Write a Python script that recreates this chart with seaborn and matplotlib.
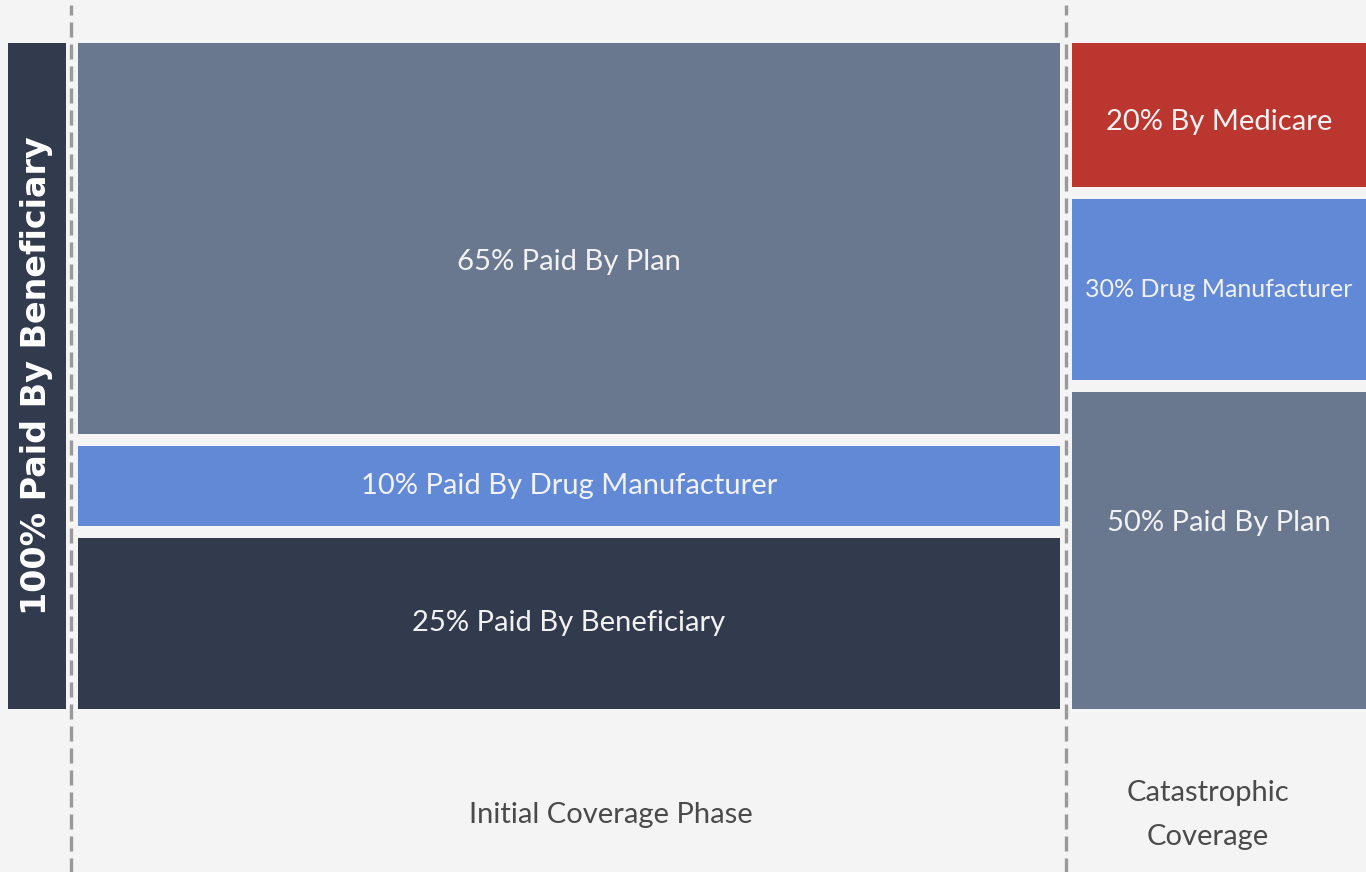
import matplotlib
matplotlib.use("Agg")
import matplotlib.pyplot as plt
import seaborn as sns
import numpy as np

# bar heights as drawn in the picture (share of the column, bottom to top)
deductible_heights = [100]
deductible_labels = ["100% Paid By Beneficiary"]

initial_heights = [27, 13.5, 59.5]
initial_labels = ["25% Paid By Beneficiary", "10% Paid By Drug Manufacturer", "65% Paid By Plan"]

catastrophic_heights = [48.5, 28.5, 23]
catastrophic_labels = ["50% Paid By Plan", "30% Drug Manufacturer", "20% By Medicare"]

phase_names = ["Initial Coverage Phase", "Catastrophic\nCoverage"]

# colours
bg = "#f4f4f4"
navy = "#323a4d"
slate = "#69778f"
blue = "#6189d6"
red = "#bc3630"

sns.set_theme(style="white")
plt.rcParams["font.family"] = ["Lato", "DejaVu Sans"]

fig = plt.figure(figsize=(13.66, 8.72), dpi=100, facecolor=bg)
ax = fig.add_axes([0, 157 / 872, 1, 678 / 872])
ax.set_facecolor(bg)
ax.set_xlim(0, 1366)
ax.set_ylim(0, 100)
ax.axis("off")

# column edges on the x axis (layout)
cols = [(2, 72), (72, 1066), (1066, 1372)]
gap_lw = 12 * 0.72  # 12 px separator


def stack(col, heights, colors, labels, sizes, shifts):
    left, right = col
    bottoms = np.concatenate([[0], np.cumsum(heights)[:-1]])
    ax.bar(left, heights, width=right - left, bottom=bottoms, align="edge",
           color=colors, edgecolor=bg, linewidth=gap_lw)
    for b, h, lab, fs, dy in zip(bottoms, heights, labels, sizes, shifts):
        ax.text((left + right) / 2, b + h / 2 + dy, lab, ha="center", va="center",
                color="#f2f2f2", fontsize=fs)


# left deductible column
ax.bar(cols[0][0], deductible_heights, width=cols[0][1] - cols[0][0], bottom=0,
       align="edge", color=navy, edgecolor=bg, linewidth=gap_lw)
ax.text(sum(cols[0]) / 2, 50, deductible_labels[0], rotation=90, ha="center",
        va="center", color="white", fontsize=24, fontweight="bold",
        family="DejaVu Sans")

stack(cols[1], initial_heights, [navy, blue, slate], initial_labels,
      [21, 21, 21], [0, 0, -3.4])
stack(cols[2], catastrophic_heights, [slate, blue, red], catastrophic_labels,
      [21, 18, 21], [4, 0, -1])

# dashed phase dividers
for x in [71, 1066]:
    ax.axvline(x, ymin=-0.235, ymax=1.047, clip_on=False, color="#999999",
               lw=2.4, dashes=[4.5, 2.1], zorder=5)

# phase names under the columns
tr = ax.get_xaxis_transform()
ax.text(611, -0.1475, phase_names[0], transform=tr, ha="center", va="center",
        color="#4a4a4a", fontsize=21)
ax.text(1208, -0.1475, phase_names[1], transform=tr, ha="center", va="center",
        color="#4a4a4a", fontsize=21, linespacing=1.9)

plt.savefig("out.png", dpi=100, facecolor=bg)
